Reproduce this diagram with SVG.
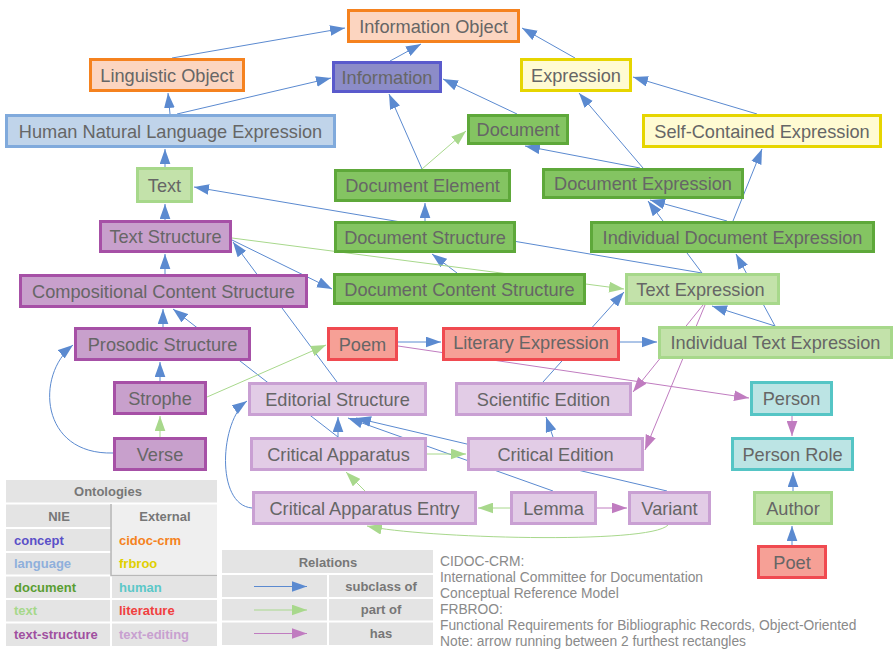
<svg xmlns="http://www.w3.org/2000/svg" width="896" height="651" viewBox="0 0 896 651">
<style>
.n rect{stroke-width:3}
.n text{font-family:"Liberation Sans",Arial,sans-serif;font-size:18.2px;fill:#666;text-anchor:middle}
.cidoc rect{fill:#fcd5c0;stroke:#f5821f}
.concept rect{fill:#8c8cc8;stroke:#5a5acc}
.frbroo rect{fill:#fffbd2;stroke:#e6d500}
.language rect{fill:#c0d4ea;stroke:#80aadc}
.document rect{fill:#84c462;stroke:#5ea83a}
.textc rect{fill:#c3e2aa;stroke:#a7d88b}
.tstruct rect{fill:#c8a0cc;stroke:#a650a6}
.lit rect{fill:#f6a096;stroke:#f04a50}
.tedit rect{fill:#e2cce6;stroke:#c9a0d3}
.human rect{fill:#bce4e4;stroke:#55c5c5}
.e{fill:none;stroke-width:1}
.sb{stroke:#5b8ad0;marker-end:url(#ab)}
.pg{stroke:#a8d88c;marker-end:url(#ag)}
.hp{stroke:#c07cc0;marker-end:url(#ap)}
.lg{font-family:"Liberation Sans",Arial,sans-serif;font-size:13px;font-weight:bold}
.nt{font-family:"Liberation Sans",Arial,sans-serif;font-size:13.8px;fill:#8a8a8a}
</style>
<defs>
<marker id="ab" viewBox="0 0 14 10" refX="14" refY="5" markerWidth="15" markerHeight="11" markerUnits="userSpaceOnUse" orient="auto"><path d="M0,0L14,5L0,10z" fill="#5b8ad0"/></marker>
<marker id="ag" viewBox="0 0 14 10" refX="14" refY="5" markerWidth="15" markerHeight="11" markerUnits="userSpaceOnUse" orient="auto"><path d="M0,0L14,5L0,10z" fill="#a8d88c"/></marker>
<marker id="ap" viewBox="0 0 14 10" refX="14" refY="5" markerWidth="15" markerHeight="11" markerUnits="userSpaceOnUse" orient="auto"><path d="M0,0L14,5L0,10z" fill="#c07cc0"/></marker>
</defs>
<rect width="896" height="651" fill="#fff"/>
<g id="connectors">
<path class="e sb" d="M172,58L345,28"/>
<path class="e sb" d="M390,61L421,44"/>
<path class="e sb" d="M170,114L168,93"/>
<path class="e sb" d="M177,114L331,78"/>
<path class="e sb" d="M575,58L522,28"/>
<path class="e sb" d="M517,114L443,79"/>
<path class="e sb" d="M757,114L633,77"/>
<path class="e sb" d="M165,167L165,149"/>
<path class="e sb" d="M422,169L389,94"/>
<path class="e sb" d="M643,168L579,93"/>
<path class="e sb" d="M640,168L525,146"/>
<path class="e sb" d="M733,221L762,149"/>
<path class="e sb" d="M727,221L650,200"/>
<path class="e sb" d="M702,273L648,201"/>
<path class="e sb" d="M775,326L736,254"/>
<path class="e sb" d="M775,326L712,306"/>
<path class="e sb" d="M702,273L194,187"/>
<path class="e sb" d="M165,220L165,204"/>
<path class="e sb" d="M425,221L425,203"/>
<path class="e sb" d="M457,273L432,254"/>
<path class="e sb" d="M232,240L332,289"/>
<path class="e sb" d="M165,274L165,254"/>
<path class="e sb" d="M337,382L233,242"/>
<path class="e sb" d="M163,327L163,309"/>
<path class="e sb" d="M338,437L173,309"/>
<path class="e sb" d="M160,381L160,362"/>
<path class="e sb" d="M113,453C40,455 35,375 73,345"/>
<path class="e sb" d="M338,437L338,417"/>
<path class="e sb" d="M252,508C215,505 220,420 247,401"/>
<path class="e sb" d="M553,491L348,418"/>
<path class="e sb" d="M667,491L356,418"/>
<path class="e sb" d="M553,437L546,417"/>
<path class="e sb" d="M543,382L624,292"/>
<path class="e sb" d="M620,342L657,342"/>
<path class="e sb" d="M398,342L441,342"/>
<path class="e sb" d="M793,491L793,472"/>
<path class="e sb" d="M792,545L792,526"/>
<path class="e pg" d="M422,169L466,131"/>
<path class="e pg" d="M232,238L624,289"/>
<path class="e pg" d="M207,397L326,345"/>
<path class="e pg" d="M160,437L160,416"/>
<path class="e pg" d="M427,454L466,454"/>
<path class="e pg" d="M365,491L346,472"/>
<path class="e pg" d="M510,508L478,508"/>
<path class="e pg" d="M668,525C650,545 420,538 367,526"/>
<path class="e hp" d="M597,508L627,508"/>
<path class="e hp" d="M792,416L792,436"/>
<path class="e hp" d="M398,346L749,398"/>
<path class="e hp" d="M703,305L633,392"/>
<path class="e hp" d="M705,305L645,450"/>
</g>
<g id="information-object" class="n cidoc"><rect x="348.5" y="10.5" width="170" height="31"/><text x="433.5" y="32.5">Information Object</text></g>
<g id="linguistic-object" class="n cidoc"><rect x="90.5" y="59.5" width="153" height="31"/><text x="167" y="81.5">Linguistic Object</text></g>
<g id="information" class="n concept"><rect x="333.5" y="62.5" width="107" height="29"/><text x="387" y="83.5">Information</text></g>
<g id="expression" class="n frbroo"><rect x="521.5" y="59.5" width="109" height="31"/><text x="576" y="81.5">Expression</text></g>
<g id="hnle" class="n language"><rect x="6.5" y="115.5" width="328" height="31"/><text x="170.5" y="137.5">Human Natural Language Expression</text></g>
<g id="document" class="n document"><rect x="468.5" y="115.5" width="99" height="28"/><text x="518" y="136">Document</text></g>
<g id="self-contained-expression" class="n frbroo"><rect x="643.5" y="115.5" width="237" height="31"/><text x="762" y="137.5">Self-Contained Expression</text></g>
<g id="text" class="n textc"><rect x="137.5" y="168.5" width="54" height="33"/><text x="164.5" y="191.5">Text</text></g>
<g id="document-element" class="n document"><rect x="335.5" y="170.5" width="174" height="30"/><text x="422.5" y="192">Document Element</text></g>
<g id="document-expression" class="n document"><rect x="543.5" y="169.5" width="199" height="28"/><text x="643" y="190">Document Expression</text></g>
<g id="text-structure" class="n tstruct"><rect x="100.5" y="221.5" width="130" height="30"/><text x="165.5" y="243">Text Structure</text></g>
<g id="document-structure" class="n document"><rect x="335.5" y="222.5" width="179" height="29"/><text x="425" y="243.5">Document Structure</text></g>
<g id="individual-document-expression" class="n document"><rect x="591.5" y="222.5" width="282" height="29"/><text x="732.5" y="243.5">Individual Document Expression</text></g>
<g id="compositional-content-structure" class="n tstruct"><rect x="20.5" y="275.5" width="286" height="31"/><text x="163.5" y="297.5">Compositional Content Structure</text></g>
<g id="document-content-structure" class="n document"><rect x="334.5" y="274.5" width="250" height="29"/><text x="459.5" y="295.5">Document Content Structure</text></g>
<g id="text-expression" class="n textc"><rect x="626.5" y="274.5" width="152" height="29"/><text x="700.5" y="295.5">Text Expression</text></g>
<g id="prosodic-structure" class="n tstruct"><rect x="75.5" y="328.5" width="174" height="31"/><text x="162.5" y="350.5">Prosodic Structure</text></g>
<g id="poem" class="n lit"><rect x="328.5" y="328.5" width="68" height="31"/><text x="362.5" y="350.5">Poem</text></g>
<g id="literary-expression" class="n lit"><rect x="443.5" y="328.5" width="175" height="31"/><text x="531" y="348.5">Literary Expression</text></g>
<g id="individual-text-expression" class="n textc"><rect x="659.5" y="327.5" width="232" height="30"/><text x="775.5" y="348.5">Individual Text Expression</text></g>
<g id="strophe" class="n tstruct"><rect x="114.5" y="382.5" width="91" height="31"/><text x="160" y="404.5">Strophe</text></g>
<g id="editorial-structure" class="n tedit"><rect x="249.5" y="383.5" width="176" height="31"/><text x="337.5" y="405.5">Editorial Structure</text></g>
<g id="scientific-edition" class="n tedit"><rect x="456.5" y="383.5" width="174" height="31"/><text x="543.5" y="405.5">Scientific Edition</text></g>
<g id="person" class="n human"><rect x="751.5" y="382.5" width="80" height="32"/><text x="791.5" y="405">Person</text></g>
<g id="verse" class="n tstruct"><rect x="114.5" y="438.5" width="91" height="31"/><text x="160" y="460.5">Verse</text></g>
<g id="critical-apparatus" class="n tedit"><rect x="251.5" y="438.5" width="174" height="31"/><text x="338.5" y="460.5">Critical Apparatus</text></g>
<g id="critical-edition" class="n tedit"><rect x="468.5" y="438.5" width="174" height="31"/><text x="555.5" y="460.5">Critical Edition</text></g>
<g id="person-role" class="n human"><rect x="732.5" y="438.5" width="120" height="31"/><text x="792.5" y="460.5">Person Role</text></g>
<g id="critical-apparatus-entry" class="n tedit"><rect x="253.5" y="492.5" width="222" height="31"/><text x="364.5" y="514.5">Critical Apparatus Entry</text></g>
<g id="lemma" class="n tedit"><rect x="511.5" y="492.5" width="84" height="31"/><text x="553.5" y="514.5">Lemma</text></g>
<g id="variant" class="n tedit"><rect x="629.5" y="492.5" width="80" height="31"/><text x="669.5" y="514.5">Variant</text></g>
<g id="author" class="n textc"><rect x="754.5" y="492.5" width="77" height="31"/><text x="793" y="514.5">Author</text></g>
<g id="poet" class="n lit"><rect x="758.5" y="546.5" width="67" height="31"/><text x="792" y="568.5">Poet</text></g>
<g id="legend-ontologies">
<rect x="6" y="480" width="211" height="166" fill="#e4e4e4"/>
<rect x="112" y="504" width="105" height="71" fill="#efefef"/>
<path d="M6,503.5H217M6,528H111M6,552H111M6,575.5H217M6,599H217M6,622.5H217M111,575V646" stroke="#fff" stroke-width="2" fill="none"/>
<path d="M111,504V575.5H217" stroke="#b8b8b8" stroke-width="1.5" fill="none"/>
<text class="lg" x="108" y="496" fill="#777" text-anchor="middle">Ontologies</text>
<text class="lg" x="59" y="521" fill="#777" text-anchor="middle">NIE</text>
<text class="lg" x="165" y="521" fill="#777" text-anchor="middle">External</text>
<text class="lg" x="14" y="545" fill="#5a50c8">concept</text>
<text class="lg" x="14" y="568" fill="#8fb0dc">language</text>
<text class="lg" x="14" y="592" fill="#5a9e32">document</text>
<text class="lg" x="14" y="615" fill="#a6d88a">text</text>
<text class="lg" x="14" y="639" fill="#a050a0">text-structure</text>
<text class="lg" x="119" y="545" fill="#f58220">cidoc-crm</text>
<text class="lg" x="119" y="568" fill="#e0d000">frbroo</text>
<text class="lg" x="119" y="592" fill="#5cc8c8">human</text>
<text class="lg" x="119" y="615" fill="#f04040">literature</text>
<text class="lg" x="119" y="639" fill="#c8a0d0">text-editing</text>
</g>
<g id="legend-relations">
<rect x="222" y="550" width="211" height="95" fill="#e4e4e4"/>
<path d="M222,574H433M222,598H433M222,621.5H433M328,574V645" stroke="#fff" stroke-width="2" fill="none"/>
<text class="lg" x="328" y="567" fill="#777" text-anchor="middle">Relations</text>
<path class="e sb" d="M254,586.5H307"/>
<path class="e pg" d="M254,610H307"/>
<path class="e hp" d="M254,633.5H307"/>
<text class="lg" x="381" y="591" fill="#777" text-anchor="middle">subclass of</text>
<text class="lg" x="381" y="614" fill="#777" text-anchor="middle">part of</text>
<text class="lg" x="381" y="638" fill="#777" text-anchor="middle">has</text>
</g>
<g id="notes">
<text class="nt" x="440" y="566">CIDOC-CRM:</text>
<text class="nt" x="440" y="582">International Committee for Documentation</text>
<text class="nt" x="440" y="598">Conceptual Reference Model</text>
<text class="nt" x="440" y="614">FRBROO:</text>
<text class="nt" x="440" y="630">Functional Requirements for Bibliographic Records, Object-Oriented</text>
<text class="nt" x="440" y="646">Note: arrow running between 2 furthest rectangles</text>
</g>
</svg>
